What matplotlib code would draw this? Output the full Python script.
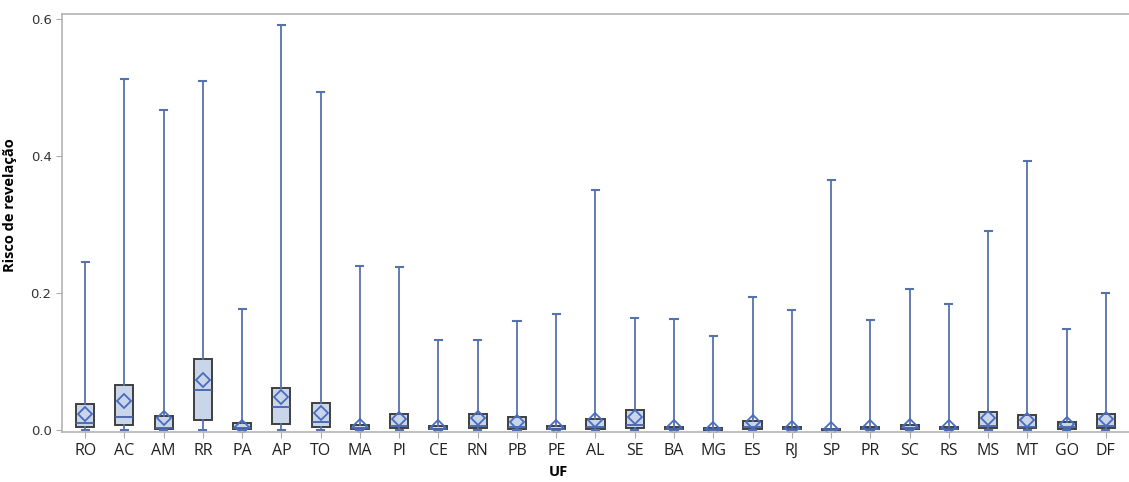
import numpy as np
import matplotlib
matplotlib.use("Agg")
from matplotlib import pyplot as plt

plt.rcParams['font.family'] = ['Open Sans', 'DejaVu Sans']

ufs = ['RO', 'AC', 'AM', 'RR', 'PA', 'AP', 'TO', 'MA', 'PI', 'CE', 'RN', 'PB', 'PE', 'AL',
       'SE', 'BA', 'MG', 'ES', 'RJ', 'SP', 'PR', 'SC', 'RS', 'MS', 'MT', 'GO', 'DF']

whis_hi = [0.245, 0.513, 0.468, 0.509, 0.176, 0.591, 0.493, 0.239, 0.238, 0.131, 0.131, 0.159, 0.170, 0.351,
           0.164, 0.162, 0.137, 0.194, 0.175, 0.365, 0.161, 0.206, 0.184, 0.290, 0.393, 0.148, 0.200]
whis_lo = [0.0] * 27
q3 = [0.038, 0.066, 0.020, 0.103, 0.010, 0.061, 0.039, 0.007, 0.023, 0.006, 0.024, 0.019, 0.006, 0.016,
      0.029, 0.005, 0.003, 0.013, 0.004, 0.002, 0.005, 0.007, 0.004, 0.026, 0.022, 0.011, 0.024]
q1 = [0.004, 0.007, 0.001, 0.015, 0.001, 0.009, 0.004, 0.001, 0.003, 0.001, 0.003, 0.002, 0.001, 0.002,
      0.003, 0.001, 0.000, 0.002, 0.001, 0.000, 0.001, 0.001, 0.001, 0.003, 0.003, 0.002, 0.003]
medians = [0.010, 0.019, 0.003, 0.058, 0.003, 0.034, 0.012, 0.003, 0.006, 0.002, 0.006, 0.005, 0.002, 0.005,
           0.007, 0.002, 0.001, 0.005, 0.002, 0.001, 0.002, 0.003, 0.002, 0.006, 0.005, 0.004, 0.006]
means = [0.024, 0.043, 0.018, 0.073, 0.005, 0.048, 0.025, 0.006, 0.016, 0.004, 0.017, 0.012, 0.005, 0.014,
         0.019, 0.004, 0.002, 0.011, 0.003, 0.002, 0.004, 0.006, 0.004, 0.017, 0.015, 0.008, 0.016]

stats = []
for i in range(len(ufs)):
    stats.append(dict(label=ufs[i], whislo=whis_lo[i], q1=q1[i], med=medians[i], q3=q3[i],
                      whishi=whis_hi[i], mean=means[i], fliers=[]))

blue = '#5672ad'
fig = plt.figure(figsize=(11.29, 4.82), dpi=100)
ax = fig.add_axes([0.0549, 0.1027, 0.9451, 0.869])

ax.bxp(stats, positions=np.arange(len(ufs)), widths=0.46, patch_artist=True, showmeans=True,
       boxprops=dict(facecolor='#c9d5e9', edgecolor='#3f3f3f', linewidth=1.4),
       medianprops=dict(color='#4464a8', linewidth=1.3),
       whiskerprops=dict(color=blue, linewidth=1.3),
       capprops=dict(color=blue, linewidth=1.5),
       capwidths=0.18,
       meanprops=dict(marker='D', markersize=7.5, markerfacecolor='none',
                      markeredgecolor='#4a6cc0', markeredgewidth=1.3))

ax.set_xlim(-0.59, 26.59)
ax.set_ylim(-0.0037, 0.608)
ax.set_yticks([0.0, 0.2, 0.4, 0.6])
ax.set_yticklabels(['0.0', '0.2', '0.4', '0.6'], family='DejaVu Sans', fontsize=9.5, color='#333333')
ax.set_xticks(np.arange(len(ufs)))
ax.set_xticklabels(ufs, fontsize=11.5, color='#222222')
ax.tick_params(axis='both', color='#aaaaaa', length=4)

for side in ['left', 'top', 'bottom']:
    ax.spines[side].set_color('#b4b4b4')
    ax.spines[side].set_linewidth(1.2)
ax.spines['right'].set_visible(False)

ax.set_ylabel('Risco de revelação', fontsize=10.5, fontweight='bold')
ax.yaxis.set_label_coords(-0.042, 0.543)
ax.set_xlabel('UF', fontsize=10.5, fontweight='bold')
ax.xaxis.set_label_coords(0.465, -0.077)

fig.savefig('out.png', dpi=100)
